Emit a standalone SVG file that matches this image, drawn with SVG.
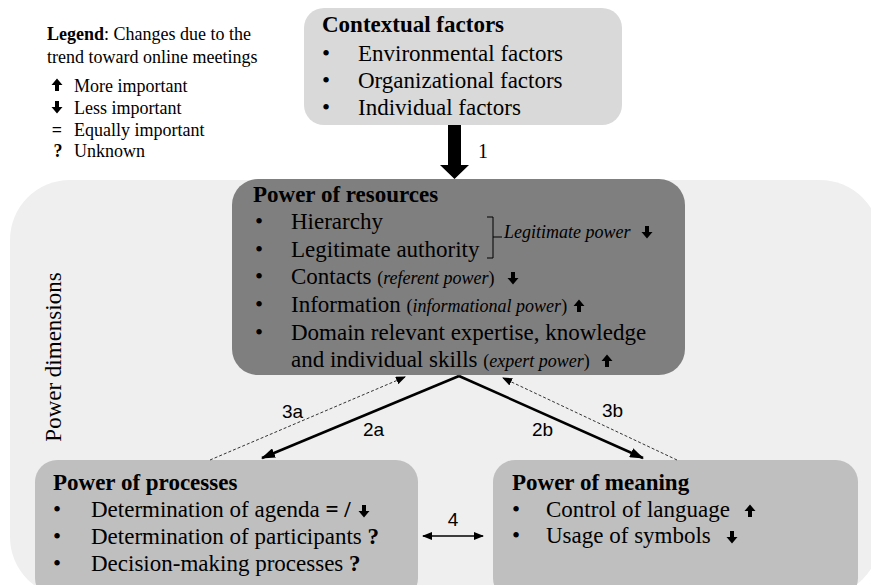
<svg xmlns="http://www.w3.org/2000/svg" width="871" height="585" viewBox="0 0 871 585">
<style>
text{font-family:"Liberation Serif","Times New Roman",serif;fill:#000}
.t{font-size:23px}
.b{font-weight:bold}
.i{font-style:italic}
.s{font-size:18px}
.lg{font-size:18px}
.lbl{font-family:"Liberation Sans",Arial,sans-serif;font-size:19px}
.solid{stroke:#000;stroke-width:2.5;fill:none}
.dash{stroke:#333;stroke-width:1;stroke-dasharray:3 2;fill:none}
.thin{stroke:#000;stroke-width:1.5;fill:none}
</style>
<defs>
<path id="up" d="M0,-6.5 L5.5,0 L2,0 L2,6 L-2,6 L-2,0 L-5.5,0 Z"/>
<path id="dn" d="M0,6.5 L5.5,0 L2,0 L2,-6 L-2,-6 L-2,0 L-5.5,0 Z"/>
<marker id="ah" markerUnits="userSpaceOnUse" markerWidth="14" markerHeight="10" refX="13" refY="5" orient="auto"><path d="M0,0 L14,5 L0,10 Z" fill="#000"/></marker>
<marker id="ahd" markerUnits="userSpaceOnUse" markerWidth="10" markerHeight="8" refX="9" refY="4" orient="auto"><path d="M0,0 L10,4 L0,8 Z" fill="#000"/></marker>
<marker id="ah4" markerUnits="userSpaceOnUse" markerWidth="10" markerHeight="8" refX="9" refY="4" orient="auto-start-reverse"><path d="M0,0 L10,4 L0,8 Z" fill="#000"/></marker>
</defs>

<rect id="background" x="10" y="180" width="870" height="417" rx="60" fill="#efefef"/>
<text class="t" transform="translate(61,357) rotate(-90)" text-anchor="middle">Power dimensions</text>

<g id="legend">
<text class="lg" x="47" y="40"><tspan class="b">Legend</tspan>: Changes due to the</text>
<text class="lg" x="47" y="63">trend toward online meetings</text>
<use href="#up" x="57" y="85"/>
<text class="lg" x="74" y="92">More important</text>
<use href="#dn" x="57" y="107"/>
<text class="lg" x="74" y="114">Less important</text>
<text class="lg b" x="57" y="136" text-anchor="middle">=</text>
<text class="lg" x="74" y="136">Equally important</text>
<text class="lg b" x="58" y="157" text-anchor="middle">?</text>
<text class="lg" x="74" y="157">Unknown</text>
</g>

<g id="contextual">
<rect x="304" y="8" width="318" height="117" rx="20" fill="#d9d9d9"/>
<text class="t b" x="322" y="32">Contextual factors</text>
<text class="t" x="322" y="61">•</text><text class="t" x="358" y="61">Environmental factors</text>
<text class="t" x="322" y="88">•</text><text class="t" x="358" y="88">Organizational factors</text>
<text class="t" x="322" y="115">•</text><text class="t" x="358" y="115">Individual factors</text>
</g>

<g id="resources">
<rect x="232" y="179" width="453" height="196" rx="26" fill="#7f7f7f"/>
<text class="t b" x="253" y="202">Power of resources</text>
<text class="t" x="255" y="229">•</text><text class="t" x="291" y="229">Hierarchy</text>
<text class="t" x="255" y="257">•</text><text class="t" x="291" y="257">Legitimate authority</text>
<path d="M487,217 L493,217 L493,258 L487,258 M493,237 L502,237" stroke="#000" stroke-width="1" fill="none"/>
<text class="s i" x="504" y="238">Legitimate power</text>
<use href="#dn" x="647" y="232"/>
<text class="t" x="255" y="284">•</text><text class="t" x="291" y="284">Contacts <tspan class="s">(<tspan class="i">referent power</tspan>)</tspan></text>
<use href="#dn" x="513" y="278"/>
<text class="t" x="255" y="312">•</text><text class="t" x="291" y="312">Information <tspan class="s">(<tspan class="i">informational power</tspan>)</tspan></text>
<use href="#up" x="579" y="306"/>
<text class="t" x="255" y="340">•</text><text class="t" x="291" y="340">Domain relevant expertise, knowledge</text>
<text class="t" x="291" y="367">and individual skills <tspan class="s">(<tspan class="i">expert power</tspan>)</tspan></text>
<use href="#up" x="607" y="361"/>
</g>

<g id="processes">
<rect x="35" y="460" width="383" height="140" rx="22" fill="#bfbfbf"/>
<text class="t b" x="53" y="490">Power of processes</text>
<text class="t" x="53" y="517">•</text><text class="t" x="91" y="517">Determination of agenda <tspan class="b">= / </tspan></text>
<use href="#dn" x="364" y="511"/>
<text class="t" x="53" y="544">•</text><text class="t" x="91" y="544">Determination of participants <tspan class="b">?</tspan></text>
<text class="t" x="53" y="571">•</text><text class="t" x="91" y="571">Decision-making processes <tspan class="b">?</tspan></text>
</g>

<g id="meaning">
<rect x="493" y="460" width="365" height="140" rx="22" fill="#bfbfbf"/>
<text class="t b" x="512" y="490">Power of meaning</text>
<text class="t" x="512" y="517">•</text><text class="t" x="546" y="517">Control of language</text>
<use href="#up" x="750" y="511"/>
<text class="t" x="512" y="543">•</text><text class="t" x="546" y="543">Usage of symbols</text>
<use href="#dn" x="732" y="537"/>
</g>

<g id="connectors">
<path d="M448,125 L461,125 L461,165 L469,165 L454.5,179 L440,165 L448,165 Z" fill="#000"/>
<text class="t" x="478" y="158" style="font-size:20px">1</text>
<line class="solid" x1="459" y1="376" x2="262" y2="458" marker-end="url(#ah)"/>
<line class="solid" x1="459" y1="376" x2="643" y2="458" marker-end="url(#ah)"/>
<line class="dash" x1="210" y1="460" x2="405" y2="377" marker-end="url(#ahd)"/>
<line class="dash" x1="677" y1="460" x2="503" y2="378" marker-end="url(#ahd)"/>
<line class="thin" x1="423" y1="536" x2="483" y2="536" marker-start="url(#ah4)" marker-end="url(#ah4)"/>
<text class="lbl" x="282" y="418">3a</text>
<text class="lbl" x="363" y="436">2a</text>
<text class="lbl" x="532" y="436">2b</text>
<text class="lbl" x="602" y="417">3b</text>
<text class="lbl" x="453" y="526" text-anchor="middle">4</text>
</g>
</svg>
